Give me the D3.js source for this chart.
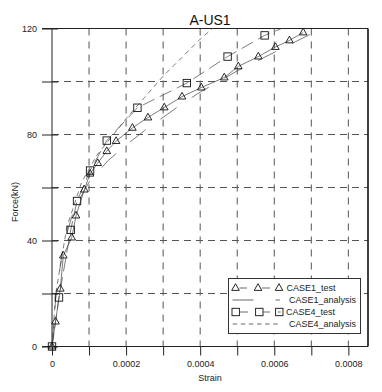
<!DOCTYPE html>
<html>
<head>
<meta charset="utf-8">
<script src="https://cdn.jsdelivr.net/npm/d3@7/dist/d3.min.js"></script>
<style>
  html, body { margin: 0; padding: 0; background: #fff; }
  svg { display: block; font-family: "Liberation Sans", Arial, sans-serif; }
</style>
</head>
<body>
<svg id="chart" width="382" height="392"></svg>
<script>
// ---------- data ----------
const case1TestStrain = [0, 0.0000095, 0.0000224, 0.0000305, 0.0000532, 0.0000649, 0.0000873, 0.0001027, 0.0001235, 0.0001478, 0.000173, 0.000217, 0.000259, 0.000303, 0.000351, 0.000403, 0.000465, 0.000503, 0.000557, 0.000603, 0.000641, 0.000678];
const case1TestForce  = [0, 9.4, 21.8, 34.3, 41.1, 49.4, 59.2, 65.2, 69.2, 73.7, 77.5, 82.5, 86.4, 90.2, 94.3, 97.7, 101.5, 105.7, 109.4, 113, 115.5, 118.5];

const case1AnalysisStrain = [0, 0.00001, 0.00003, 0.00006, 0.0001, 0.00015, 0.0002, 0.00025, 0.0003, 0.00035, 0.0004, 0.00045, 0.0005, 0.00055, 0.0006, 0.00065, 0.0007];
const case1AnalysisForce  = [0, 18, 38, 52, 62, 70, 76, 81.5, 86.5, 91.5, 96, 100, 104, 107.5, 111, 114.5, 118];

const case4TestStrain = [0, 0.0000189, 0.0000505, 0.0000676, 0.0001027, 0.0001478, 0.0002306, 0.000364, 0.000474, 0.000574, 0.00063];
const case4TestForce  = [0, 18.5, 44, 54.9, 66.4, 77.7, 90.1, 99.4, 109.4, 117.4, 120.6];

const case4AnalysisStrain = [0, 0.00001, 0.00004, 0.00008, 0.00012, 0.00016, 0.0002, 0.00025, 0.0003, 0.00035, 0.0004, 0.00045];
const case4AnalysisForce  = [0, 20, 45, 62, 72, 79, 86, 94, 102, 109, 116, 122];

const xTicks = [0, 0.0001, 0.0002, 0.0003, 0.0004, 0.0005, 0.0006, 0.0007, 0.0008];
const xTickLabels = ["0", "", "0.0002", "", "0.0004", "", "0.0006", "", "0.0008"];
const yTicks = [0, 20, 40, 60, 80, 100, 120];
const yTickLabels = ["0", "", "40", "", "80", "", "120"];

const title = "A-US1";
const xTitle = "Strain";
const yTitle = "Force(kN)";
const seriesNames = ["CASE1_test", "CASE1_analysis", "CASE4_test", "CASE4_analysis"];

// ---------- layout ----------
const L = 52, R = 368, T = 28.5, B = 346.5;
const svg = d3.select("#chart");
const x = d3.scaleLinear().domain([0, 0.000853]).range([L, R]);
const y = d3.scaleLinear().domain([0, 120]).range([B, T]);
const yMax = y.domain()[1];

const ink = "#222";
const lineInk = "#444";

// clip for lines
svg.append("defs").append("clipPath").attr("id", "plotclip")
  .append("rect").attr("x", L - 12).attr("y", T).attr("width", R - L + 12).attr("height", B - T + 12);

// grid
const grid = svg.append("g");
grid.selectAll("line.vg").data(xTicks.filter(v => v > 0)).join("line")
  .attr("x1", d => x(d)).attr("x2", d => x(d))
  .attr("y1", T).attr("y2", B)
  .attr("stroke", "#555").attr("stroke-width", 1).attr("stroke-dasharray", "7,6");
grid.selectAll("line.hg").data(yTicks.filter(v => v > 0 && v < 120)).join("line")
  .attr("x1", L).attr("x2", R)
  .attr("y1", d => y(d)).attr("y2", d => y(d))
  .attr("stroke", "#555").attr("stroke-width", 1).attr("stroke-dasharray", "7,5");

// axes
const xAxis = d3.axisBottom(x).tickValues(xTicks).tickSize(9).tickPadding(5)
  .tickFormat((d, i) => xTickLabels[i]);
const gx = svg.append("g").attr("transform", `translate(0,${B})`).call(xAxis);
gx.select(".domain").remove();
gx.selectAll(".tick line").attr("stroke", ink);
gx.selectAll(".tick text").attr("font-size", 9).attr("fill", ink).attr("font-family", "Liberation Sans, Arial, sans-serif");

const yAxis = d3.axisLeft(y).tickValues(yTicks).tickSize(10).tickPadding(5)
  .tickFormat((d, i) => yTickLabels[i]);
const gy = svg.append("g").attr("transform", `translate(${L},0)`).call(yAxis);
gy.select(".domain").remove();
gy.selectAll(".tick line").attr("stroke", ink);
gy.selectAll(".tick text").attr("font-size", 9).attr("fill", ink).attr("font-family", "Liberation Sans, Arial, sans-serif");

const yAxisIn = d3.axisRight(y).tickValues(yTicks).tickSize(6).tickFormat("");
const gyi = svg.append("g").attr("transform", `translate(${L},0)`).call(yAxisIn);
gyi.select(".domain").remove();
gyi.selectAll(".tick line").attr("stroke", ink);

// frame lines
svg.append("line").attr("x1", L).attr("x2", L).attr("y1", T).attr("y2", B).attr("stroke", ink);
svg.append("line").attr("x1", L - 10).attr("x2", R).attr("y1", B).attr("y2", B).attr("stroke", ink);
svg.append("line").attr("x1", L - 10).attr("x2", R).attr("y1", T).attr("y2", T).attr("stroke", ink);
svg.append("line").attr("x1", R).attr("x2", R).attr("y1", T).attr("y2", B).attr("stroke", "#111").attr("stroke-width", 1.6);

// titles
svg.append("text").attr("x", (L + R) / 2).attr("y", 25).attr("text-anchor", "middle")
  .attr("font-size", 14).attr("fill", "#111").text(title);
svg.append("text").attr("x", (L + R) / 2).attr("y", 381).attr("text-anchor", "middle")
  .attr("font-size", 9).attr("fill", ink).text(xTitle);
svg.append("text").attr("transform", "translate(18,202) rotate(-90)").attr("text-anchor", "middle")
  .attr("font-size", 9).attr("fill", ink).text(yTitle);

// series
const zip = (xs, ys) => xs.map((v, i) => [v, ys[i]]);
const line = d3.line().x(d => x(d[0])).y(d => y(d[1]));
const plot = svg.append("g");
const lines = plot.append("g").attr("clip-path", "url(#plotclip)");

lines.append("path").attr("d", line(zip(case1AnalysisStrain, case1AnalysisForce)))
  .attr("fill", "none").attr("stroke", lineInk).attr("stroke-width", 0.7).attr("stroke-dasharray", "20,18");
lines.append("path").attr("d", line(zip(case4AnalysisStrain, case4AnalysisForce)))
  .attr("fill", "none").attr("stroke", lineInk).attr("stroke-width", 0.7).attr("stroke-dasharray", "5,4");
lines.append("path").attr("d", line(zip(case1TestStrain, case1TestForce)))
  .attr("fill", "none").attr("stroke", lineInk).attr("stroke-width", 0.7);
lines.append("path").attr("d", line(zip(case4TestStrain, case4TestForce)))
  .attr("fill", "none").attr("stroke", lineInk).attr("stroke-width", 0.7).attr("stroke-dasharray", "13,6");

const triPath = "M0,-4.3L3.8,2.4L-3.8,2.4Z";
plot.append("g").selectAll("rect").data(zip(case4TestStrain, case4TestForce).filter(d => d[1] <= yMax)).join("rect")
  .attr("x", d => x(d[0]) - 3.7).attr("y", d => y(d[1]) - 3.7).attr("width", 7.4).attr("height", 7.4)
  .attr("fill", "none").attr("stroke", "#111").attr("stroke-width", 0.9);
plot.append("g").selectAll("path").data(zip(case1TestStrain, case1TestForce).filter(d => d[1] <= yMax)).join("path")
  .attr("d", triPath).attr("transform", d => `translate(${x(d[0])},${y(d[1])})`)
  .attr("fill", "none").attr("stroke", "#111").attr("stroke-width", 0.9);

// legend
const lg = svg.append("g");
lg.append("rect").attr("x", 228.5).attr("y", 278.5).attr("width", 132).attr("height", 55)
  .attr("fill", "#fff").attr("stroke", "#333").attr("stroke-width", 1);
const rows = [288, 300, 312, 324];
// CASE1_test
[235.5, 258, 279].forEach(cx => lg.append("path").attr("d", triPath)
  .attr("transform", `translate(${cx},${rows[0]})`).attr("fill", "none").attr("stroke", "#111").attr("stroke-width", 0.9));
[[239.5, 247], [262, 270]].forEach(s => lg.append("line").attr("x1", s[0]).attr("x2", s[1])
  .attr("y1", rows[0]).attr("y2", rows[0]).attr("stroke", lineInk).attr("stroke-width", 0.8));
// CASE1_analysis
lg.append("line").attr("x1", 232.5).attr("x2", 280).attr("y1", rows[1]).attr("y2", rows[1])
  .attr("stroke", lineInk).attr("stroke-width", 0.8).attr("stroke-dasharray", "21,22");
// CASE4_test
[235.7, 259.3, 279.3].forEach(cx => lg.append("rect").attr("x", cx - 3.7).attr("y", rows[2] - 3.7)
  .attr("width", 7.4).attr("height", 7.4).attr("fill", "none").attr("stroke", "#111").attr("stroke-width", 0.9));
[[239.5, 248], [263, 270], [277.8, 280.8]].forEach(s => lg.append("line").attr("x1", s[0]).attr("x2", s[1])
  .attr("y1", rows[2]).attr("y2", rows[2]).attr("stroke", lineInk).attr("stroke-width", 0.8));
// CASE4_analysis
lg.append("line").attr("x1", 232.7).attr("x2", 278).attr("y1", rows[3]).attr("y2", rows[3])
  .attr("stroke", lineInk).attr("stroke-width", 0.8).attr("stroke-dasharray", "4.5,3.6");
const textX = [286.5, 289, 286, 289];
seriesNames.forEach((n, i) => lg.append("text").attr("x", textX[i]).attr("y", rows[i] + 3.2)
  .attr("font-size", 9).attr("fill", ink).text(n));
</script>
</body>
</html>
